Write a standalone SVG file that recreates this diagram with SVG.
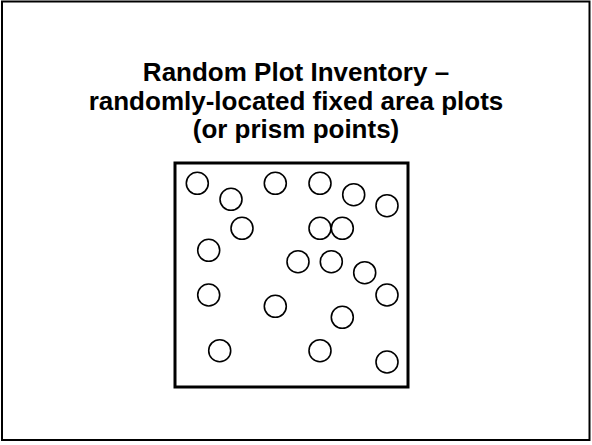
<svg xmlns="http://www.w3.org/2000/svg" width="592" height="445" viewBox="0 0 592 445">
<style>
.t{font-family:"Liberation Sans",Arial,sans-serif;font-weight:bold;font-size:26px;fill:#000;text-anchor:middle}
.c{fill:none;stroke:#000;stroke-width:1.6}
</style>
<rect x="0" y="0" width="592" height="445" fill="#fff"/>
<rect x="2" y="1.5" width="587.5" height="438.5" fill="none" stroke="#000" stroke-width="2"/>
<g id="title">
<text class="t" x="296" y="81">Random Plot Inventory –</text>
<text class="t" x="296" y="109.5">randomly-located fixed area plots</text>
<text class="t" x="296" y="138">(or prism points)</text>
</g>
<g id="area">
<rect x="175" y="163" width="233" height="224" fill="none" stroke="#000" stroke-width="3"/>
</g>
<g id="plots">
<circle class="c" cx="197.3" cy="183.3" r="11"/>
<circle class="c" cx="231" cy="199.3" r="11"/>
<circle class="c" cx="275.3" cy="183.3" r="11"/>
<circle class="c" cx="320" cy="183.3" r="11"/>
<circle class="c" cx="353.7" cy="194.7" r="11"/>
<circle class="c" cx="387" cy="205.7" r="11"/>
<circle class="c" cx="242" cy="228.3" r="11"/>
<circle class="c" cx="320" cy="228.3" r="11"/>
<circle class="c" cx="342.3" cy="228.3" r="11"/>
<circle class="c" cx="208.7" cy="250.3" r="11"/>
<circle class="c" cx="298" cy="261.7" r="11"/>
<circle class="c" cx="331.3" cy="261.7" r="11"/>
<circle class="c" cx="364.7" cy="272.7" r="11"/>
<circle class="c" cx="208.7" cy="295" r="11"/>
<circle class="c" cx="387" cy="295" r="11"/>
<circle class="c" cx="275.3" cy="306.3" r="11"/>
<circle class="c" cx="342.3" cy="317.3" r="11"/>
<circle class="c" cx="219.7" cy="350.7" r="11"/>
<circle class="c" cx="320" cy="350.7" r="11"/>
<circle class="c" cx="387" cy="362" r="11"/>
</g>
</svg>
